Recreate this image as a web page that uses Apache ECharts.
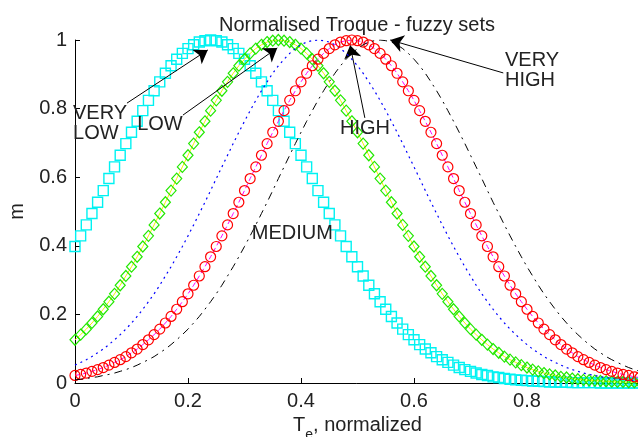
<!DOCTYPE html>
<html>
<head>
<meta charset="utf-8">
<script src="https://cdn.jsdelivr.net/npm/echarts@6/dist/echarts.min.js"></script>
<style>
html,body{margin:0;padding:0;background:#fff;}
#c{width:638px;height:437px;}
</style>
</head>
<body>
<div id="c"></div>
<script>
const xValues = [0.00,0.01,0.02,0.03,0.04,0.05,0.06,0.07,0.08,0.09,
0.10,0.11,0.12,0.13,0.14,0.15,0.16,0.17,0.18,0.19,
0.20,0.21,0.22,0.23,0.24,0.25,0.26,0.27,0.28,0.29,
0.30,0.31,0.32,0.33,0.34,0.35,0.36,0.37,0.38,0.39,
0.40,0.41,0.42,0.43,0.44,0.45,0.46,0.47,0.48,0.49,
0.50,0.51,0.52,0.53,0.54,0.55,0.56,0.57,0.58,0.59,
0.60,0.61,0.62,0.63,0.64,0.65,0.66,0.67,0.68,0.69,
0.70,0.71,0.72,0.73,0.74,0.75,0.76,0.77,0.78,0.79,
0.80,0.81,0.82,0.83,0.84,0.85,0.86,0.87,0.88,0.89,
0.90,0.91,0.92,0.93,0.94,0.95,0.96,0.97,0.98,0.99,1.00];

const veryLow = [0.398,0.429,0.461,0.494,0.527,0.561,0.596,0.630,0.664,0.698,
0.731,0.763,0.794,0.824,0.852,0.878,0.903,0.925,0.944,0.961,
0.975,0.986,0.994,0.998,1.000,0.998,0.994,0.986,0.975,0.961,
0.944,0.925,0.903,0.878,0.852,0.824,0.794,0.763,0.731,0.698,
0.664,0.630,0.596,0.561,0.527,0.494,0.461,0.429,0.398,0.368,
0.339,0.312,0.285,0.260,0.237,0.215,0.194,0.175,0.157,0.141,
0.126,0.112,0.099,0.088,0.077,0.068,0.060,0.052,0.045,0.039,
0.034,0.029,0.025,0.022,0.018,0.016,0.013,0.011,0.009,0.008,
0.007,0.006,0.005,0.004,0.003,0.003,0.002,0.002,0.001,0.001,
0.001,0.001,0.001,0.000,0.000,0.000,0.000,0.000,0.000,0.000,0.000];

const low = [0.126,0.141,0.157,0.175,0.194,0.215,0.237,0.260,0.285,0.312,
0.339,0.368,0.398,0.429,0.461,0.494,0.527,0.561,0.596,0.630,
0.664,0.698,0.731,0.763,0.794,0.824,0.852,0.878,0.903,0.925,
0.944,0.961,0.975,0.986,0.994,0.998,1.000,0.998,0.994,0.986,
0.975,0.961,0.944,0.925,0.903,0.878,0.852,0.824,0.794,0.763,
0.731,0.698,0.664,0.630,0.596,0.561,0.527,0.494,0.461,0.429,
0.398,0.368,0.339,0.312,0.285,0.260,0.237,0.215,0.194,0.175,
0.157,0.141,0.126,0.112,0.099,0.088,0.077,0.068,0.060,0.052,
0.045,0.039,0.034,0.029,0.025,0.022,0.018,0.016,0.013,0.011,
0.009,0.008,0.007,0.006,0.005,0.004,0.003,0.003,0.002,0.002,0.001];

const medium = [0.052,0.060,0.068,0.077,0.088,0.099,0.112,0.126,0.141,0.157,
0.175,0.194,0.215,0.237,0.260,0.285,0.312,0.339,0.368,0.398,
0.429,0.461,0.494,0.527,0.561,0.596,0.630,0.664,0.698,0.731,
0.763,0.794,0.824,0.852,0.878,0.903,0.925,0.944,0.961,0.975,
0.986,0.994,0.998,1.000,0.998,0.994,0.986,0.975,0.961,0.944,
0.925,0.903,0.878,0.852,0.824,0.794,0.763,0.731,0.698,0.664,
0.630,0.596,0.561,0.527,0.494,0.461,0.429,0.398,0.368,0.339,
0.312,0.285,0.260,0.237,0.215,0.194,0.175,0.157,0.141,0.126,
0.112,0.099,0.088,0.077,0.068,0.060,0.052,0.045,0.039,0.034,
0.029,0.025,0.022,0.018,0.016,0.013,0.011,0.009,0.008,0.007,0.006];

const high = [0.022,0.025,0.029,0.034,0.039,0.045,0.052,0.060,0.068,0.077,
0.088,0.099,0.112,0.126,0.141,0.157,0.175,0.194,0.215,0.237,
0.260,0.285,0.312,0.339,0.368,0.398,0.429,0.461,0.494,0.527,
0.561,0.596,0.630,0.664,0.698,0.731,0.763,0.794,0.824,0.852,
0.878,0.903,0.925,0.944,0.961,0.975,0.986,0.994,0.998,1.000,
0.998,0.994,0.986,0.975,0.961,0.944,0.925,0.903,0.878,0.852,
0.824,0.794,0.763,0.731,0.698,0.664,0.630,0.596,0.561,0.527,
0.494,0.461,0.429,0.398,0.368,0.339,0.312,0.285,0.260,0.237,
0.215,0.194,0.175,0.157,0.141,0.126,0.112,0.099,0.088,0.077,
0.068,0.060,0.052,0.045,0.039,0.034,0.029,0.025,0.022,0.018,0.016];

const veryHigh = [0.009,0.011,0.013,0.016,0.018,0.022,0.025,0.029,0.034,0.039,
0.045,0.052,0.060,0.068,0.077,0.088,0.099,0.112,0.126,0.141,
0.157,0.175,0.194,0.215,0.237,0.260,0.285,0.312,0.339,0.368,
0.398,0.429,0.461,0.494,0.527,0.561,0.596,0.630,0.664,0.698,
0.731,0.763,0.794,0.824,0.852,0.878,0.903,0.925,0.944,0.961,
0.975,0.986,0.994,0.998,1.000,0.998,0.994,0.986,0.975,0.961,
0.944,0.925,0.903,0.878,0.852,0.824,0.794,0.763,0.731,0.698,
0.664,0.630,0.596,0.561,0.527,0.494,0.461,0.429,0.398,0.368,
0.339,0.312,0.285,0.260,0.237,0.215,0.194,0.175,0.157,0.141,
0.126,0.112,0.099,0.088,0.077,0.068,0.060,0.052,0.045,0.039,0.034];

const xTicks = [0, 0.2, 0.4, 0.6, 0.8, 1];
const yTicks = [0, 0.2, 0.4, 0.6, 0.8, 1];

const titleText = 'Normalised Troque - fuzzy sets';
const yName = 'm';

const annoTexts = ['VERY\nLOW', 'LOW', 'MEDIUM', 'HIGH', 'VERY\nHIGH'];
const annoPos = [[-0.0035, 0.816], [0.110, 0.784], [0.313, 0.466], [0.469, 0.770], [0.761, 0.968]];
const arrowFrom = [[0.092, 0.816], [0.191, 0.781], [0.388, 0.464], [0.513, 0.773], [0.758, 0.904]];
const arrowTo = [[0.235, 0.971], [0.358, 0.977], [0.430, 1.005], [0.487, 0.985], [0.558, 1.000]];

const FONT = 'Liberation Sans, Arial, Helvetica, sans-serif';
const pairs = arr => xValues.map((x, i) => [x, arr[i]]);

const chart = echarts.init(document.getElementById('c'), null, {renderer: 'canvas'});

const axisCommon = {
  type: 'value', min: 0, max: 1, interval: 0.2,
  axisLine: {show: true, lineStyle: {color: '#000', width: 1}},
  axisTick: {show: true, inside: true, length: 5, lineStyle: {color: '#000'}},
  splitLine: {show: false},
  axisLabel: {color: '#222', fontSize: 20, fontFamily: FONT, margin: 8,
    formatter: v => { const t = xTicks.find(k => Math.abs(k - v) < 1e-6); return t === undefined ? '' : String(t); }}
};

const option = {
  animation: false,
  backgroundColor: '#fff',
  title: {text: titleText, left: 214, top: 10,
    textStyle: {fontSize: 20, fontWeight: 'normal', color: '#222', fontFamily: FONT}},
  grid: {left: 75, right: -2, top: 40, bottom: 54, containLabel: false, outerBoundsMode: 'none'},
  xAxis: Object.assign({}, axisCommon, {
    axisLabel: Object.assign({}, axisCommon.axisLabel, {showMaxLabel: false}),
    name: '{t|T}{s|e}{t|, normalized}',
    nameLocation: 'middle', nameGap: 25,
    nameTextStyle: {color: '#222', fontFamily: FONT,
      rich: {t: {fontSize: 20, lineHeight: 22, verticalAlign: 'top', fontFamily: FONT, color: '#222'},
             s: {fontSize: 14, lineHeight: 14, padding: [12, 0, 0, 0], verticalAlign: 'top', fontFamily: FONT, color: '#222'}}}
  }),
  yAxis: Object.assign({}, axisCommon, {
    axisLabel: Object.assign({}, axisCommon.axisLabel, {
      formatter: v => { const t = yTicks.find(k => Math.abs(k - v) < 1e-6); return t === undefined ? '' : String(t); }}),
    name: yName, nameLocation: 'middle', nameGap: 48,
    nameTextStyle: {color: '#222', fontSize: 20, fontFamily: FONT}
  }),
  series: [
    {name: 'VERY LOW', type: 'line', data: pairs(veryLow), symbol: 'rect', symbolSize: 10,
      showSymbol: true, showAllSymbol: true, lineStyle: {opacity: 0},
      itemStyle: {color: 'rgba(0,0,0,0)', borderColor: '#00f2f2', borderWidth: 1.4}, z: 2},
    {name: 'LOW line', type: 'line', data: pairs(low), symbol: 'none',
      lineStyle: {color: '#f0f000', width: 1}, z: 3},
    {name: 'LOW', type: 'line', data: pairs(low), symbol: 'diamond', symbolSize: [10, 11],
      showSymbol: true, showAllSymbol: true, lineStyle: {opacity: 0},
      itemStyle: {color: 'rgba(0,0,0,0)', borderColor: '#22e800', borderWidth: 1.2}, z: 4},
    {name: 'MEDIUM', type: 'line', data: pairs(medium), symbol: 'none',
      lineStyle: {color: '#0000ff', width: 1.2, type: [2, 4]}, z: 5},
    {name: 'HIGH line', type: 'line', data: pairs(high), symbol: 'none',
      lineStyle: {color: '#ff00ff', width: 1, type: [5, 3]}, z: 6},
    {name: 'HIGH', type: 'line', data: pairs(high), symbol: 'circle', symbolSize: 10,
      showSymbol: true, showAllSymbol: true, lineStyle: {opacity: 0},
      itemStyle: {color: 'rgba(0,0,0,0)', borderColor: '#ff0000', borderWidth: 1.2}, z: 7},
    {name: 'VERY HIGH', type: 'line', data: pairs(veryHigh), symbol: 'none',
      lineStyle: {color: '#000', width: 1, type: [8, 5, 2, 5]}, z: 8},
    {name: 'arrows', type: 'scatter', data: [], z: 10,
      markLine: {silent: true, symbol: ['none', 'arrow'], symbolSize: 13, animation: false,
        label: {show: false}, emphasis: {disabled: true},
        lineStyle: {color: '#000', width: 1, type: 'solid'},
        data: arrowFrom.map((f, i) => [{coord: f}, {coord: arrowTo[i]}])}}
  ]
};
chart.setOption(option);

const texts = annoTexts.map((t, i) => {
  const p = chart.convertToPixel({gridIndex: 0}, annoPos[i]);
  return {type: 'text', x: p[0], y: p[1], z: 20, silent: true,
    style: {text: t, fill: '#222', fontSize: 20, fontFamily: FONT, lineHeight: 20,
      align: 'left', verticalAlign: 'top'}};
});
chart.setOption({graphic: texts});
</script>
</body>
</html>
